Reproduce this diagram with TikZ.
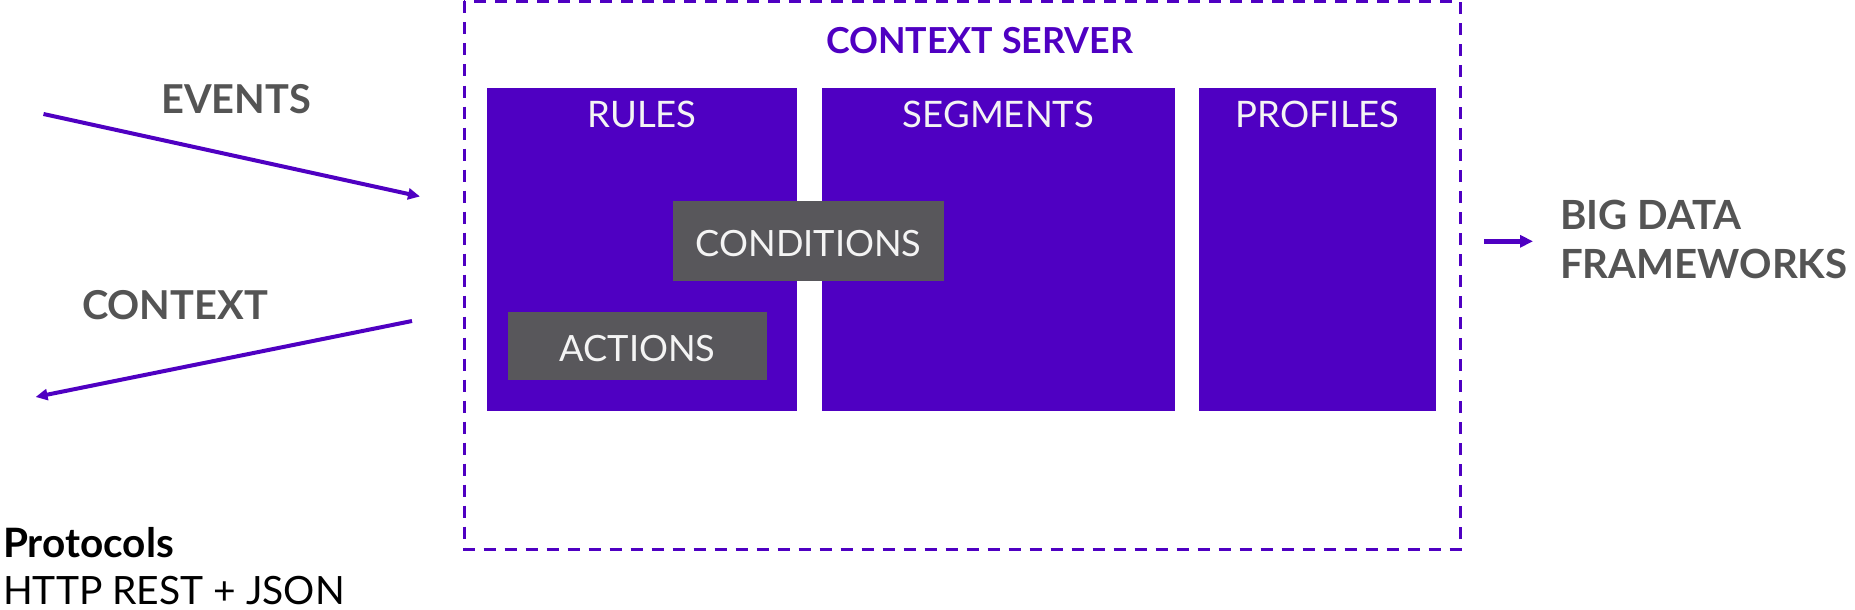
\documentclass[tikz,border=0pt]{standalone}
\usepackage{fontspec}
\setmainfont{Lato}
\usetikzlibrary{arrows.meta}
\definecolor{vio}{HTML}{4F00C2}
\definecolor{grbox}{HTML}{58575B}
\definecolor{grtext}{HTML}{545454}
\definecolor{wtext}{HTML}{F4F4F4}
\tikzset{
  pbox/.style={fill=vio, draw=none, anchor=north west, inner sep=0pt},
  gbox/.style={fill=grbox, draw=none, anchor=north west, inner sep=0pt},
  blabel/.style={anchor=base, inner sep=0pt, text=wtext, font=\fontsize{36.5}{44}\selectfont},
  glabel/.style={anchor=base, inner sep=0pt, text=wtext, font=\fontsize{36.2}{44}\selectfont},
  sidelabel/.style={anchor=base, inner sep=0pt, text=grtext, font=\bfseries\fontsize{39.8}{48}\selectfont},
  biglabel/.style={anchor=base west, inner sep=0pt, text=grtext, font=\bfseries\fontsize{40.2}{48}\selectfont},
  flow/.style={draw=vio, line width=4pt, -{Triangle[length=12pt,width=11pt]}},
  server/.style={draw=vio, line width=3pt, dash pattern=on 12pt off 9pt},
}
\begin{document}
\begin{tikzpicture}[x=1pt,y=-1pt]
\useasboundingbox (0,0) rectangle (1855,610);
% server frame
\draw[server] (464.3,1.5) rectangle (1460.3,549.3);
\node[anchor=base, inner sep=0pt, text=vio, font=\bfseries\fontsize{35.8}{42}\selectfont] (title) at (979.5,53) {CONTEXT SERVER};
% main boxes
\node[pbox, minimum width=310pt, minimum height=323pt] (rules) at (487,88) {};
\node[pbox, minimum width=353pt, minimum height=323pt] (segments) at (822,88) {};
\node[pbox, minimum width=237pt, minimum height=323pt] (profiles) at (1199,88) {};
\node[blabel] (rulest) at (642,127) {RULES};
\node[blabel] (segt) at (998.5,127) {SEGMENTS};
\node[blabel] (proft) at (1317.5,127) {PROFILES};
% gray boxes
\node[gbox, minimum width=271pt, minimum height=80pt] (cond) at (673,201) {};
\node[glabel] (condt) at (808.5,256) {CONDITIONS};
\node[gbox, minimum width=259pt, minimum height=68pt] (act) at (508,312) {};
\node[glabel] (actt) at (637.5,361) {ACTIONS};
% left flows
\node[sidelabel] (events) at (236,113) {EVENTS};
\coordinate (evs) at (43.5,114);
\coordinate (eve) at (420,196.5);
\draw[flow] (evs) -- (eve);
\node[sidelabel] (context) at (175,319) {CONTEXT};
\coordinate (cxs) at (412,321);
\coordinate (cxe) at (35.6,397);
\draw[flow] (cxs) -- (cxe);
% right flow
\coordinate (bds) at (1484,241.3);
\coordinate (bde) at (1533,241.3);
\draw[draw=vio, line width=5pt, -{Triangle[length=13pt,width=12pt]}] (bds) -- (bde);
\node[biglabel] (bigdata) at (1560,229.6) {BIG DATA};
\node[biglabel] (frameworks) at (1560,278) {FRAMEWORKS};
% protocols
\node[anchor=base west, inner sep=0pt, text=black, font=\bfseries\fontsize{40.5}{48}\selectfont] (protocols) at (3,557) {Protocols};
\node[anchor=base west, inner sep=0pt, text=black, font=\fontsize{39}{47}\selectfont] (http) at (3,604) {HTTP REST + JSON};
\end{tikzpicture}
\end{document}
